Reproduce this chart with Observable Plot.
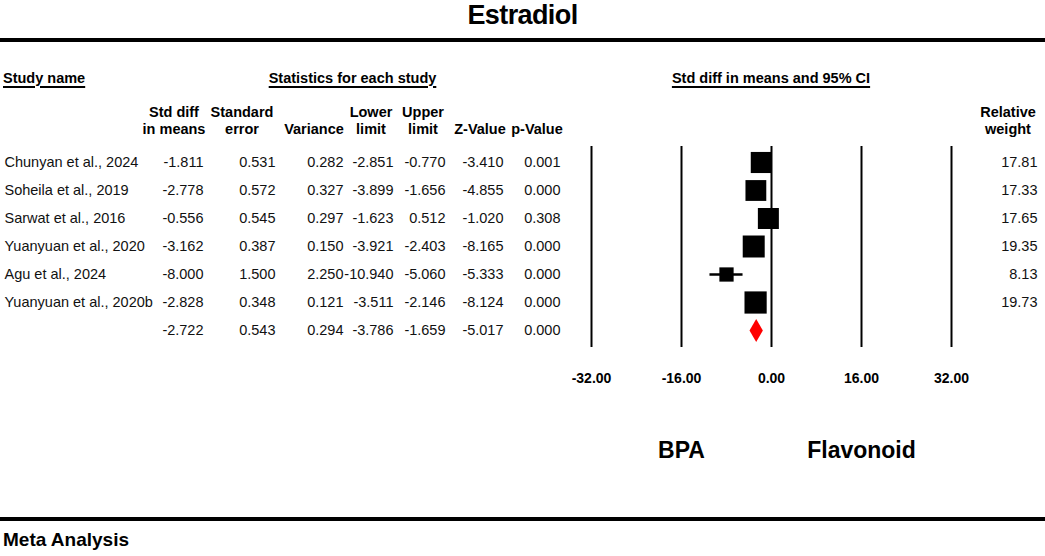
<!DOCTYPE html>
<html>
<head>
<meta charset="utf-8">
<script src="https://cdn.jsdelivr.net/npm/d3@7"></script>
<script src="https://cdn.jsdelivr.net/npm/@observablehq/plot@0.6"></script>
<style>
  body { margin: 0; background: #fff; }
  #wrap { position: relative; width: 1045px; height: 556px; overflow: hidden;
          font-family: Arial, "Liberation Sans", sans-serif; color: #000; background: #fff; }
  .abs { position: absolute; }
  #title { top: 0; left: 0; width: 1045px; text-align: center; font-weight: bold;
           font-size: 27px; line-height: 30px; letter-spacing: -0.6px; }
  .rule { left: 0; width: 1045px; height: 4px; background: #000; }
  #chart { top: 42px; left: 0; width: 1045px; height: 475px; }
  #chart svg { position: absolute; top: 0; left: 0; }
  .sec { top: 27.5px; font-weight: bold; font-size: 14.5px; line-height: 17px; white-space: nowrap;
         text-decoration: underline; text-underline-offset: 3px; text-decoration-thickness: 1.5px; }
  .colh { top: 61.5px; font-weight: bold; font-size: 14.5px; line-height: 17px; text-align: center;
          white-space: nowrap; transform: translateX(-50%); }
  #caption { top: 529px; left: 3px; font-weight: bold; font-size: 19px; line-height: 22px; }
</style>
</head>
<body>
<div id="wrap">
  <div id="title" class="abs">Estradiol</div>
  <div class="abs rule" style="top:38px"></div>
  <div id="chart" class="abs"></div>
  <div class="abs rule" style="top:517px"></div>
  <div id="caption" class="abs">Meta Analysis</div>
</div>
<script>
// ---- data ----
const studies   = ["Chunyan et al., 2024", "Soheila et al., 2019", "Sarwat et al., 2016",
                   "Yuanyuan et al., 2020", "Agu et al., 2024", "Yuanyuan et al., 2020b"];
const stdDiff   = [-1.811, -2.778, -0.556, -3.162, -8.000, -2.828];
const stdErr    = [0.531, 0.572, 0.545, 0.387, 1.500, 0.348];
const variance  = [0.282, 0.327, 0.297, 0.150, 2.250, 0.121];
const lowerLim  = [-2.851, -3.899, -1.623, -3.921, -10.940, -3.511];
const upperLim  = [-0.770, -1.656, 0.512, -2.403, -5.060, -2.146];
const zValue    = [-3.410, -4.855, -1.020, -8.165, -5.333, -8.124];
const pValue    = [0.001, 0.000, 0.308, 0.000, 0.000, 0.000];
const relWeight = [17.81, 17.33, 17.65, 19.35, 8.13, 19.73];
// summary (overall effect)
const summaryValues = [-2.722, 0.543, 0.294, -3.786, -1.659, -5.017, 0.000];
const xTicks = [-32, -16, 0, 16, 32];
const favorLabels = ["BPA", "Flavonoid"];
const sectionHeaders = ["Study name", "Statistics for each study", "Std diff in means and 95% CI"];

// ---- table built from the arrays ----
const rows = studies.map((name, i) => ({
  key: name, name, stdDiff: stdDiff[i], se: stdErr[i], variance: variance[i],
  lower: lowerLim[i], upper: upperLim[i], z: zValue[i], p: pValue[i], weight: relWeight[i]
}));
const summary = {
  key: "__summary", name: "", stdDiff: summaryValues[0], se: summaryValues[1], variance: summaryValues[2],
  lower: summaryValues[3], upper: summaryValues[4], z: summaryValues[5], p: summaryValues[6], weight: null
};
const allRows = [...rows, summary];
const rowKeys = allRows.map(d => d.key);

// ---- layout ----
const font = 'Arial, "Liberation Sans", sans-serif';
const rowRange = [118, 290];
const columns = [
  {key: "name",     x: 4,    anchor: "start", fmt: v => v},
  {key: "stdDiff",  x: 203,  anchor: "end", fmt: v => v.toFixed(3), head: ["Std diff", "in means"], hx: 174},
  {key: "se",       x: 275,  anchor: "end", fmt: v => v.toFixed(3), head: ["Standard", "error"], hx: 242},
  {key: "variance", x: 343,  anchor: "end", fmt: v => v.toFixed(3), head: ["&nbsp;", "Variance"], hx: 314},
  {key: "lower",    x: 393,  anchor: "end", fmt: v => v.toFixed(3), head: ["Lower", "limit"], hx: 371},
  {key: "upper",    x: 445,  anchor: "end", fmt: v => v.toFixed(3), head: ["Upper", "limit"], hx: 423},
  {key: "z",        x: 503,  anchor: "end", fmt: v => v.toFixed(3), head: ["&nbsp;", "Z-Value"], hx: 480},
  {key: "p",        x: 560,  anchor: "end", fmt: v => v.toFixed(3), head: ["&nbsp;", "p-Value"], hx: 537},
  {key: "weight",   x: 1037, anchor: "end", fmt: v => v == null ? "" : v.toFixed(2), head: ["Relative", "weight"], hx: 1008}
];

const chart = document.getElementById("chart");

// section headers
const secPos = [{left: 3}, {center: 352.5}, {center: 771}];
sectionHeaders.forEach((t, i) => {
  const d = document.createElement("div");
  d.className = "abs sec";
  d.textContent = t;
  if (secPos[i].left != null) d.style.left = secPos[i].left + "px";
  else { d.style.left = secPos[i].center + "px"; d.style.transform = "translateX(-50%)"; }
  chart.appendChild(d);
});
// column headers
columns.filter(c => c.head).forEach(c => {
  const d = document.createElement("div");
  d.className = "abs colh";
  d.style.left = c.hx + "px";
  d.innerHTML = c.head.join("<br>");
  chart.appendChild(d);
});

// ---- forest plot ----
const forest = Plot.plot({
  width: 1045, height: 475,
  marginLeft: 591, marginRight: 94, marginTop: 104, marginBottom: 170,
  style: {background: "transparent", fontFamily: font, color: "black", overflow: "visible"},
  x: {domain: [xTicks[0], xTicks[xTicks.length - 1]], label: null},
  y: {type: "point", domain: rowKeys, range: rowRange, padding: 0, axis: null},
  r: {type: "sqrt", domain: [0, 20], range: [0, 2.821 * Math.sqrt(20)]},
  marks: [
    Plot.ruleX(xTicks, {stroke: "black", strokeWidth: 2}),
    Plot.ruleY(rows, {y: "key", x1: "lower", x2: "upper", stroke: "black", strokeWidth: 2.5}),
    Plot.dot(rows, {x: "stdDiff", y: "key", r: "weight", symbol: "square", fill: "black", stroke: "none"}),
    Plot.dot([summary], {x: "stdDiff", y: "key", r: 7, symbol: "diamond", fill: "red", stroke: "none"}),
    Plot.axisX({ticks: xTicks, tickFormat: d => d.toFixed(2), tickSize: 0, tickPadding: 26,
                fontSize: 14, fontWeight: "bold", label: null, anchor: "bottom"}),
    Plot.text(favorLabels, {x: (d, i) => (i === 0 ? xTicks[1] : xTicks[3]), text: d => d,
                            frameAnchor: "bottom", dy: 110, fontSize: 23, fontWeight: "bold", fill: "black"})
  ]
});
chart.appendChild(forest);

// ---- table text ----
const table = Plot.plot({
  width: 1045, height: 475, margin: 0,
  style: {background: "transparent", fontFamily: font, color: "black", overflow: "visible"},
  x: {type: "identity", axis: null},
  y: {type: "point", domain: rowKeys, range: rowRange, padding: 0, axis: null},
  marks: columns.map(c => Plot.text(allRows, {
    x: c.x, y: "key", text: d => c.fmt(d[c.key]), textAnchor: c.anchor,
    fontSize: 14.5, fill: "#111"
  }))
});
chart.appendChild(table);
</script>
</body>
</html>
